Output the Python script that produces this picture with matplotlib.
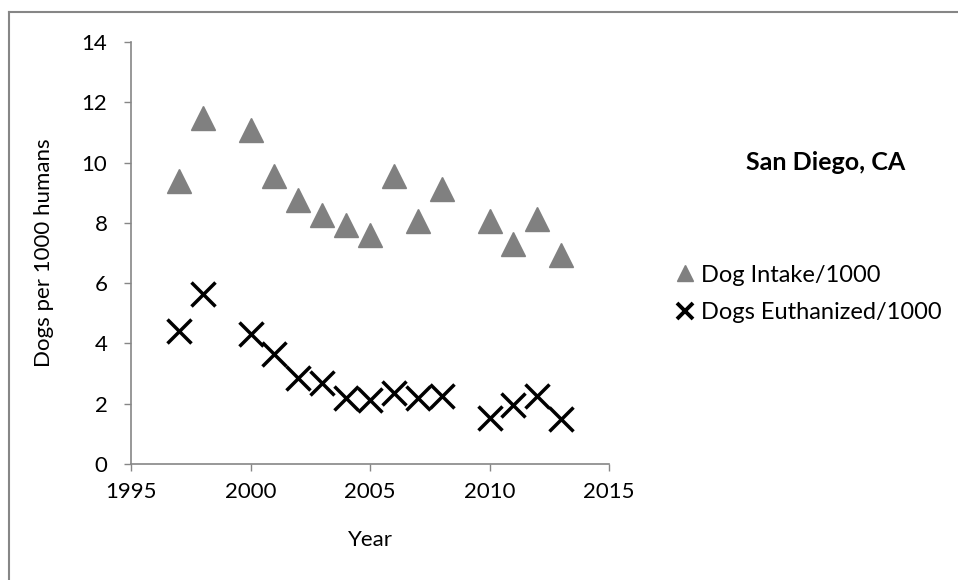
import numpy as np
import matplotlib
matplotlib.use("Agg")
import matplotlib.pyplot as plt
from matplotlib.lines import Line2D

plt.rcParams['font.family'] = ['Lato', 'DejaVu Sans']

# ---- data ----
years_intake = [1997, 1998, 2000, 2001, 2002, 2003, 2004, 2005, 2006, 2007, 2008, 2010, 2011, 2012, 2013]
intake = [9.39, 11.47, 11.08, 9.55, 8.75, 8.25, 7.92, 7.59, 9.55, 8.06, 9.13, 8.06, 7.31, 8.14, 6.95]

years_euth = [1997, 1998, 2000, 2001, 2002, 2003, 2004, 2005, 2006, 2007, 2008, 2010, 2011, 2012, 2013]
euthanized = [4.41, 5.63, 4.32, 3.65, 2.85, 2.68, 2.19, 2.13, 2.35, 2.19, 2.24, 1.52, 1.96, 2.26, 1.49]

x_ticks = [1995, 2000, 2005, 2010, 2015]
y_ticks = [0, 2, 4, 6, 8, 10, 12, 14]

W, H = 958, 580
fig = plt.figure(figsize=(W / 100, H / 100), dpi=100)
ax = fig.add_axes([131 / W, 1 - 464 / H, (609 - 131) / W, (464 - 42) / H])

ax.plot(years_intake, intake, linestyle='none', marker='^', markersize=17,
        color='#808080', label='Dog Intake/1000')
ax.plot(years_euth, euthanized, linestyle='none', marker='x', markersize=17.5,
        markeredgewidth=2.5, color='black', label='Dogs Euthanized/1000')

ax.set_xlim(1995, 2015)
ax.set_ylim(0, 14)
ax.set_xticks(x_ticks)
ax.set_yticks(y_ticks)
ax.tick_params(axis='both', labelsize=16, length=5, width=1, color='#868686', direction='out')
ax.tick_params(axis='y', pad=12)
ax.tick_params(axis='x', pad=8)

for s in ['top', 'right']:
    ax.spines[s].set_visible(False)
for s in ['left', 'bottom']:
    ax.spines[s].set_color('#868686')
    ax.spines[s].set_linewidth(1.2)

ax.set_xlabel("Year", fontsize=16, labelpad=20)
ax.set_ylabel("Dogs per 1000 humans", fontsize=16, labelpad=20)

fig.text(826 / W, 1 - 163 / H, "San Diego, CA", fontsize=18, fontweight='bold',
         ha='center', va='center')

handles = [
    Line2D([], [], linestyle='none', marker='^', markersize=11, color='#808080'),
    Line2D([], [], linestyle='none', marker='x', markersize=11, markeredgewidth=2.8, color='black'),
]
fig.legend(handles, ['Dog Intake/1000', 'Dogs Euthanized/1000'],
           loc='center left', bbox_to_anchor=(676 / W, 1 - 294 / H),
           frameon=False, fontsize=17, handlelength=0.8, handletextpad=0.25,
           labelspacing=0.7, borderaxespad=0, borderpad=0)

# outer chart border (left and top edges visible)
fig.add_artist(Line2D([9 / W, 9 / W], [0, 1 - 12 / H], transform=fig.transFigure,
                      color='#868686', linewidth=1.5))
fig.add_artist(Line2D([9 / W, 1], [1 - 12 / H, 1 - 12 / H], transform=fig.transFigure,
                      color='#868686', linewidth=1.5))

fig.savefig("out.png", dpi=100)
